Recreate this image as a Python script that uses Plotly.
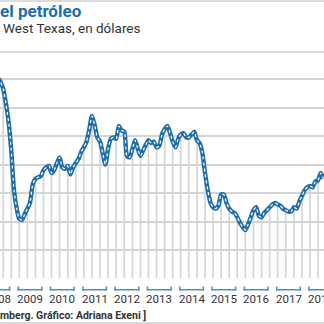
import plotly.graph_objects as go
from datetime import date

# ---- data (monthly) ----
start_year, start_month = 2008, 7
values = [
    141, 138, 133, 123, 110, 90,                                   # 2008 Jul-Dec
    62, 49, 42, 41, 45, 49, 53, 66, 70, 71, 72, 76,                # 2009
    78, 79, 74, 76, 81, 85, 78, 77, 79, 73, 78, 81,                # 2010
    84, 89, 92, 96, 104, 114, 108, 99, 96, 88, 80, 91,             # 2011
    98, 99, 98, 107, 104, 103, 86, 85, 91, 97, 91, 86,             # 2012
    90, 94, 97, 95, 96, 92, 93, 101, 105, 107, 102, 96,            # 2013
    92, 98, 101, 102, 99, 99, 101, 103, 97, 95, 88, 74,            # 2014
    62, 53, 50, 49, 51, 59, 59, 53, 49, 47, 46, 43,                # 2015
    39, 36, 34, 38, 43, 48, 50, 44, 43, 46, 48, 50,                # 2016
    52, 53, 52, 51, 49, 48, 47, 47, 50, 49, 54, 58,                # 2017
    62, 64, 65, 64, 68, 69, 74, 70,                                # 2018 Jan-Aug
]
years = [2008, 2009, 2010, 2011, 2012, 2013, 2014, 2015, 2016, 2017, 2018]
grid_values = [20, 40, 60, 80, 100, 120, 140]

title_text = "el petróleo"
subtitle_text = "West Texas, en dólares"
source_text = "mberg. Gráfico: Adriana Exeni ]"

# ---- build dates ----
dates = []
y, m = start_year, start_month
for _ in values:
    dates.append(f"{y:04d}-{m:02d}-01")
    m += 1
    if m > 12:
        m = 1
        y += 1

X0, X1 = date(2008, 7, 27), date(2018, 8, 7)

def xpaper(d):
    return (d - X0).days / (X1 - X0).days

BLUE = "#1f6ea5"
GRID = "#d4d4d4"
TEXT = "#333333"
BRACKET = "#4a8fc0"

fig = go.Figure()

# drop lines (quarterly: Mar, Jun, Sep, Dec)
dx, dy = [], []
for d, v in zip(dates, values):
    if int(d[5:7]) in (3, 6, 9, 12):
        dx += [d, d, None]
        dy += [0, v, None]
fig.add_trace(go.Scatter(x=dx, y=dy, mode="lines",
                         line=dict(color=GRID, width=1.6),
                         hoverinfo="skip", showlegend=False))

# main line: blue outer + white dotted core
fig.add_trace(go.Scatter(x=dates, y=values, mode="lines",
                         line=dict(color=BLUE, width=4.4, shape="spline", smoothing=0.6),
                         showlegend=False))
fig.add_trace(go.Scatter(x=dates, y=values, mode="lines",
                         line=dict(color="white", width=1.2, dash="dot",
                                   shape="spline", smoothing=0.6),
                         hoverinfo="skip", showlegend=False))

H = 324.0
def py(pix):
    return (H - pix) / H

PXW = 1.0 / 324.0
shapes = []
# year brackets drawn as thin filled rectangles
for yr in years:
    a = xpaper(date(yr, 2, 10))
    b = xpaper(date(yr, 11, 20))
    shapes.append(dict(type="rect", xref="paper", yref="paper", x0=a, x1=b,
                       y0=py(290.5), y1=py(289), fillcolor=BRACKET, line=dict(width=0)))
    for xe in (a, b - 1.5 * PXW):
        shapes.append(dict(type="rect", xref="paper", yref="paper", x0=xe, x1=xe + 1.5 * PXW,
                           y0=py(290.5), y1=py(286.5), fillcolor=BRACKET, line=dict(width=0)))
# horizontal rules
for pix in (1, 52, 323):
    shapes.append(dict(type="rect", xref="paper", yref="paper",
                       x0=0, x1=1, y0=py(pix + 0.75), y1=py(pix - 0.75),
                       fillcolor="#d0d0d0", line=dict(width=0)))

annotations = []
for yr in years:
    annotations.append(dict(x=xpaper(date(yr, 7, 2)), y=py(298.5), xref="paper", yref="paper",
                            text=str(yr), showarrow=False, xanchor="center", yanchor="middle",
                            font=dict(family="Liberation Sans Narrow, Arial Narrow, Roboto",
                                      size=11.5, color=TEXT)))

annotations.append(dict(x=0, y=py(11), xref="paper", yref="paper", text=f"<b>{title_text}</b>",
                        showarrow=False, xanchor="left", yanchor="middle", xshift=-2,
                        font=dict(family="Roboto", size=17, color=BLUE)))
annotations.append(dict(x=0, y=py(28), xref="paper", yref="paper", text=subtitle_text,
                        showarrow=False, xanchor="left", yanchor="middle", xshift=1,
                        font=dict(family="Roboto", size=13.5, color=TEXT)))
annotations.append(dict(x=0, y=py(315), xref="paper", yref="paper", text=f"<b>{source_text}</b>",
                        showarrow=False, xanchor="left", yanchor="middle", xshift=-2,
                        font=dict(family="Roboto", size=10.5, color=TEXT)))

fig.update_layout(
    width=324, height=324,
    margin=dict(l=0, r=0, t=0, b=0),
    paper_bgcolor="white", plot_bgcolor="white",
    xaxis=dict(range=[X0.isoformat(), X1.isoformat()], showgrid=False, zeroline=False,
               showline=False, showticklabels=False, ticks="", domain=[0, 1]),
    yaxis=dict(range=[0, (278.5 - 60) / 1.425], domain=[py(278.5), py(60)],
               tickvals=grid_values, showticklabels=False, ticks="",
               showgrid=True, gridcolor=GRID, gridwidth=1.6,
               zeroline=False, showline=False),
    shapes=shapes, annotations=annotations,
    showlegend=False,
)

fig.write_html("out.html")
